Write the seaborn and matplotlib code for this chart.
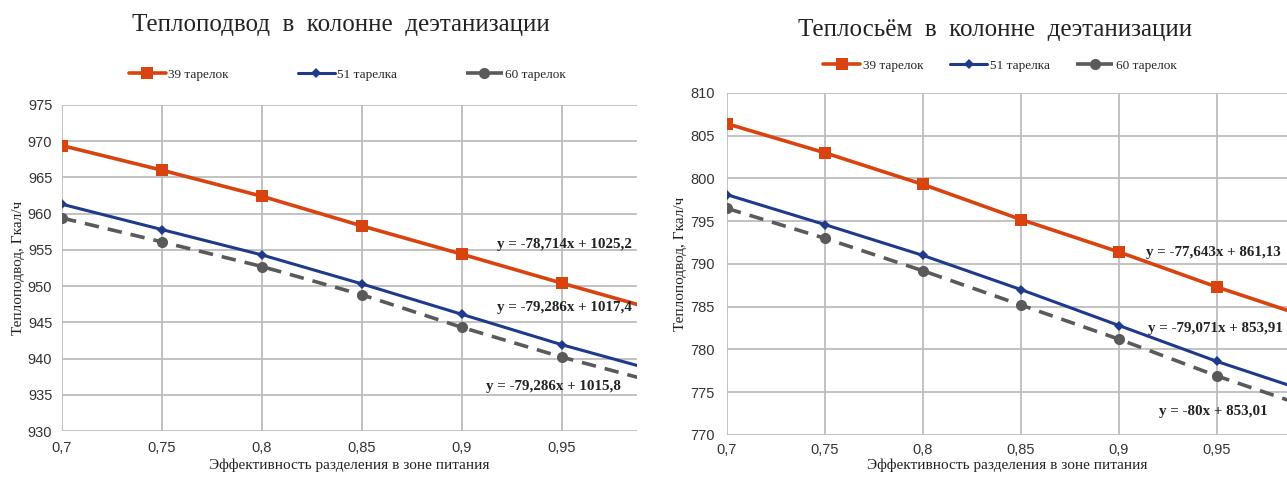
import numpy as np
import pandas as pd
import matplotlib
matplotlib.use("Agg")
import matplotlib.pyplot as plt
import seaborn as sns

# ---- data ----
x_vals = [0.7, 0.75, 0.8, 0.85, 0.9, 0.95, 1.0]
series_names = ["39 тарелок", "51 тарелка", "60 тарелок"]

heat_in_39 = [969.4, 966.0, 962.4, 958.3, 954.4, 950.4, 946.5]
heat_in_51 = [961.3, 957.8, 954.3, 950.3, 946.1, 941.9, 938.1]
heat_in_60 = [959.4, 956.1, 952.7, 948.8, 944.3, 940.2, 936.5]

heat_out_39 = [806.4, 803.0, 799.3, 795.2, 791.4, 787.3, 783.5]
heat_out_51 = [798.1, 794.6, 791.0, 787.0, 782.8, 778.6, 774.8]
heat_out_60 = [796.5, 793.0, 789.2, 785.2, 781.2, 776.9, 773.0]

eq_left = ["y = -78,714x + 1025,2", "y = -79,286x + 1017,4", "y = -79,286x + 1015,8"]
eq_right = ["y = -77,643x + 861,13", "y = -79,071x + 853,91", "y = -80x + 853,01"]

title_left = "Теплоподвод  в  колонне  деэтанизации"
title_right = "Теплосьём  в  колонне  деэтанизации"
ylabel = "Теплоподвод, Гкал/ч"
xlabel = "Эффективность разделения в зоне питания"

x_ticks = [0.7, 0.75, 0.8, 0.85, 0.9, 0.95]
x_tick_labels = ["0,7", "0,75", "0,8", "0,85", "0,9", "0,95"]
y_ticks_left = [930, 935, 940, 945, 950, 955, 960, 965, 970, 975]
y_ticks_right = [770, 775, 780, 785, 790, 795, 800, 805, 810]

colors = ["#D9430F", "#1F3A8A", "#5A5A5A"]
markers = ["s", "D", "o"]
msizes = [8, 5, 8]
lstyles = ["-", "-", (0, (4, 2.5))]
lwidths = [2.6, 2.2, 2.6]

sns.set_theme(style="whitegrid")
plt.rcParams["font.family"] = ["Liberation Sans", "DejaVu Sans"]

fig = plt.figure(figsize=(12.87, 4.79), dpi=100)
ax1 = fig.add_axes([0.0482, 0.1002, 0.4468, 0.6806])
ax2 = fig.add_axes([0.5649, 0.0919, 0.4351, 0.7140])

serif = ["Liberation Serif", "DejaVu Serif"]


def draw(ax, ys, yticks, xmax, eqs, eq_pos, eq_ha, title, title_xy, legend_xy, colspace,
         ypad, xpad, xlpad):
    df = pd.DataFrame({
        "x": x_vals * 3,
        "y": ys[0] + ys[1] + ys[2],
        "s": [series_names[0]] * len(x_vals) + [series_names[1]] * len(x_vals) + [series_names[2]] * len(x_vals),
    })
    for i, name in enumerate(series_names):
        sub = df[df["s"] == name]
        sns.lineplot(data=sub, x="x", y="y", ax=ax, color=colors[i], marker=markers[i],
                     markersize=msizes[i], linestyle=lstyles[i], linewidth=lwidths[i],
                     markeredgewidth=0, label=name, zorder=3 + i, clip_on=True)
    ax.set_xlim(0.7, xmax)
    ax.set_ylim(yticks[0], yticks[-1])
    ax.set_xticks(x_ticks)
    ax.set_xticklabels(x_tick_labels, fontsize=10.5, color="#333333")
    ax.set_yticks(yticks)
    ax.set_yticklabels([str(v) for v in yticks], fontsize=10.5, color="#333333")
    ax.grid(True, color="#BDBDBD", linewidth=1.3)
    for sp in ax.spines.values():
        sp.set_visible(False)
    ax.tick_params(axis="x", length=0, pad=xpad)
    ax.tick_params(axis="y", length=0, pad=ypad)
    ax.set_xlabel(xlabel, fontfamily=serif, fontsize=11, color="#222222", labelpad=xlpad)
    ax.set_ylabel(ylabel, fontfamily=serif, fontsize=11, color="#222222", labelpad=2)
    for txt, (px, py), ha in zip(eqs, eq_pos, eq_ha):
        ax.text(px, py, txt, fontfamily=serif, fontsize=10.8, fontweight="bold",
                color="#222222", ha=ha, va="center", zorder=10)
    ax.legend(loc="center", bbox_to_anchor=legend_xy, bbox_transform=fig.transFigure,
              ncol=3, frameon=False, prop={"family": serif, "size": 9.5},
              handlelength=2.8, columnspacing=colspace, handletextpad=0.2)
    fig.text(title_xy[0], title_xy[1], title, fontfamily=serif, fontsize=18,
             color="#222222", ha="center", va="center")


draw(ax1, [heat_in_39, heat_in_51, heat_in_60], y_ticks_left, 0.9875, eq_left,
     [(0.951, 955.7), (0.951, 947.0), (0.9455, 936.2)], ["center", "center", "center"],
     title_left, (0.265, 1 - 25 / 479), (0.27, 1 - 75 / 479), 5.2, 7, 7, 3)
draw(ax2, [heat_out_39, heat_out_51, heat_out_60], y_ticks_right, 0.9857, eq_right,
     [(0.9136, 791.4), (0.915, 782.4), (0.948, 772.8)], ["left", "left", "center"],
     title_right, (0.773, 1 - 30 / 479), (0.777, 1 - 66 / 479), 2.0, 9, 6, 1)

fig.savefig("out.png", dpi=100, facecolor="white")
